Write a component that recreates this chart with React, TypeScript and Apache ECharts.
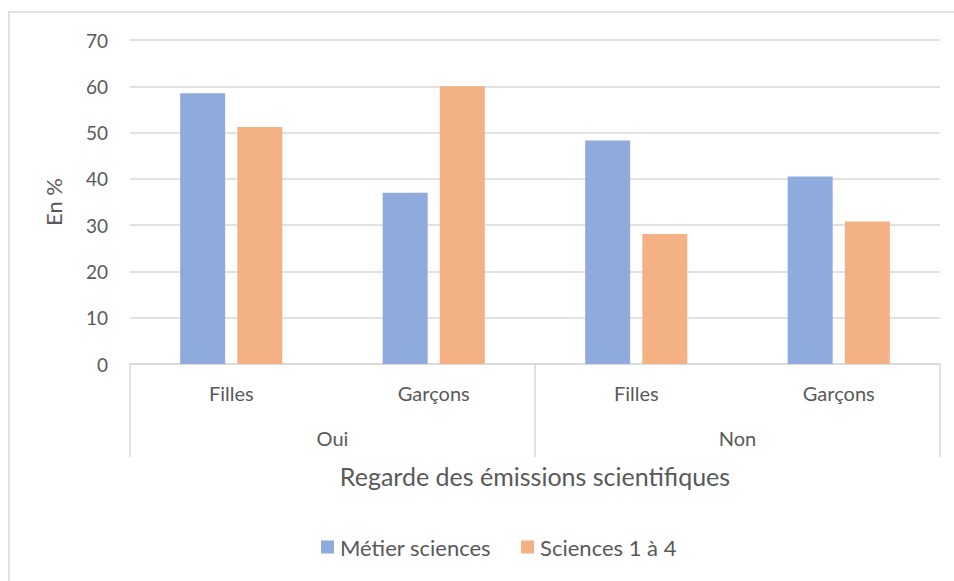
import React, { useEffect, useRef } from "react";
import * as echarts from "echarts";

const subCategories = ["Filles", "Garçons", "Filles", "Garçons"];
const groupCategories = ["Oui", "Non"];
const metierSciences = [58.5, 37.0, 48.3, 40.5];
const sciences1a4 = [51.2, 60.0, 28.1, 30.8];
const seriesNames = ["Métier sciences", "Sciences 1 à 4"];
const yTicks = { min: 0, max: 70, interval: 10 };

const FONT = "Lato";
const TEXT = "#595959";
const GRID = "#d9d9d9";

export default function App() {
  const ref = useRef<HTMLDivElement>(null);
  useEffect(() => {
    if (!ref.current) return;
    const chart = echarts.init(ref.current, undefined, { renderer: "svg" });
    chart.setOption({
      animation: false,
      textStyle: { fontFamily: FONT, color: TEXT },
      graphic: [
        {
          type: "rect",
          shape: { x: 9, y: 12, width: 1000, height: 1000 },
          style: { fill: "none", stroke: GRID, lineWidth: 1.5 },
          silent: true,
        },
      ],
      grid: { left: 130, right: 14, top: 40, bottom: 217 },
      legend: {
        bottom: 18,
        left: 316,
        itemWidth: 13,
        itemHeight: 13,
        itemGap: 30,
        icon: "rect",
        textStyle: { fontFamily: FONT, fontSize: 22, color: TEXT, padding: [0, 0, 0, 1] },
        data: seriesNames,
      },
      xAxis: [
        {
          type: "category",
          position: "bottom",
          data: subCategories,
          axisLine: { show: true, lineStyle: { color: GRID, width: 1.5 } },
          axisTick: { show: false },
          axisLabel: { margin: 19, fontSize: 20, color: TEXT, fontFamily: FONT, interval: 0 },
          name: "Regarde des émissions scientifiques",
          nameLocation: "middle",
          nameGap: 99,
          nameTextStyle: { fontSize: 25, color: TEXT, fontFamily: FONT },
        },
        {
          type: "category",
          position: "bottom",
          data: groupCategories,
          axisLine: { show: false },
          axisTick: { show: true, length: 93, interval: 0, lineStyle: { color: GRID, width: 1.5 } },
          axisLabel: { margin: 64, fontSize: 20, color: TEXT, fontFamily: FONT, interval: 0 },
        },
      ],
      yAxis: {
        type: "value",
        min: yTicks.min,
        max: yTicks.max,
        interval: yTicks.interval,
        name: "En %",
        nameLocation: "middle",
        nameRotate: 90,
        nameGap: 66,
        nameTextStyle: { fontSize: 22, color: TEXT, fontFamily: FONT },
        axisLine: { show: false },
        axisTick: { show: false },
        axisLabel: { margin: 22, fontSize: 19, color: TEXT, fontFamily: FONT },
        splitLine: { lineStyle: { color: GRID, width: 1.5 } },
      },
      series: [
        {
          name: seriesNames[0],
          type: "bar",
          xAxisIndex: 0,
          data: metierSciences,
          barWidth: 45,
          barGap: "27%",
          itemStyle: { color: "#8FAADC" },
        },
        {
          name: seriesNames[1],
          type: "bar",
          xAxisIndex: 0,
          data: sciences1a4,
          barWidth: 45,
          barGap: "27%",
          itemStyle: { color: "#F4B183" },
        },
      ],
    });
    return () => chart.dispose();
  }, []);
  return (
    <div
      ref={ref}
      style={{ position: "absolute", left: 0, top: 0, width: 954, height: 581, background: "#fff" }}
    />
  );
}
